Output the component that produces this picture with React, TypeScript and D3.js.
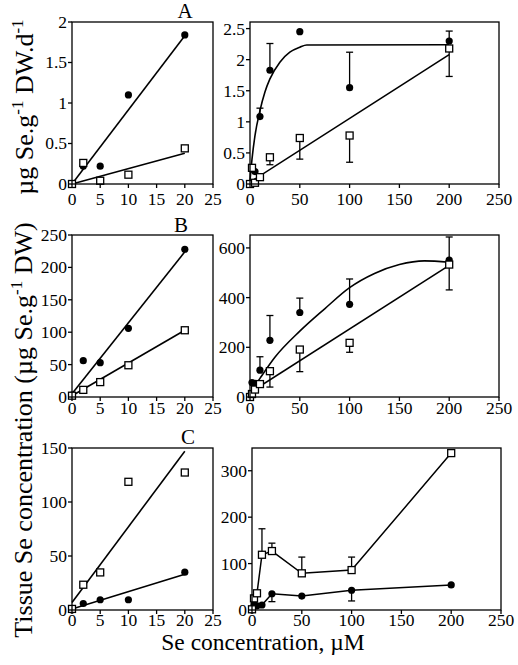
import React from "react";
import * as d3 from "d3";

// ---------- data ----------
const leftX = [0, 2, 5, 10, 20];
const rightX = [0, 2, 5, 10, 20, 50, 100, 200];

const leftXTicks = [0, 5, 10, 15, 20, 25];
const rightXTicks = [0, 50, 100, 150, 200, 250];

// Row A
const aLeftCircles = [0, 0.22, 0.22, 1.1, 1.84];
const aLeftSquares = [0, 0.26, 0.04, 0.115, 0.44];
const aLeftCircleFit: [number, number][] = [[0, 0], [20, 1.83]];
const aLeftSquareFit: [number, number][] = [[0, 0], [20, 0.38]];
const aRightCircles = [0, 0.24, 0.2, 1.085, 1.83, 2.45, 1.55, 2.3];
const aRightSquares = [0, 0.26, 0.02, 0.11, 0.43, 0.74, 0.78, 2.18];
const aRightCircleErr: [number, number][] = [[10, 1.22], [20, 2.26], [100, 2.12], [200, 2.46]];
const aRightSquareErr: [number, number][] = [[20, 0.31], [50, 0.4], [100, 0.35], [200, 1.73]];
const aRightCircleFit: [number, number][] = [
  [0, 0.05], [2, 0.4], [5, 0.78], [10, 1.18], [15, 1.48], [20, 1.69], [30, 1.96],
  [40, 2.12], [50, 2.2], [57, 2.235], [200, 2.24],
];
const aRightSquareFit: [number, number][] = [[0, 0.03], [200, 2.08]];
const aLeftYTicks = [0, 0.5, 1, 1.5, 2];
const aRightYTicks = [0, 0.5, 1, 1.5, 2, 2.5];

// Row B
const bLeftCircles = [3, 56, 53, 106, 228];
const bLeftSquares = [2, 11, 23, 49, 103];
const bLeftCircleFit: [number, number][] = [[0, 5], [20, 224]];
const bLeftSquareFit: [number, number][] = [[0, 2], [20, 103]];
const bRightCircles = [0, 58, 55, 108, 228, 340, 373, 551];
const bRightSquares = [0, 12, 30, 52, 104, 191, 218, 533];
const bRightCircleErr: [number, number][] = [[10, 162], [20, 328], [50, 398], [100, 475], [200, 644]];
const bRightSquareErr: [number, number][] = [[20, 40], [50, 102], [100, 180], [200, 431]];
const bRightCircleFit: [number, number][] = [
  [0, 15], [10, 75], [25, 160], [50, 265], [75, 355], [100, 440], [125, 497],
  [150, 533], [175, 548], [200, 542],
];
const bRightSquareFit: [number, number][] = [[0, 18], [200, 530]];
const bLeftYTicks = [0, 50, 100, 150, 200, 250];
const bRightYTicks = [0, 200, 400, 600];

// Row C
const cLeftCircles = [0, 6, 9.5, 9.5, 35];
const cLeftSquares = [1, 23.4, 34.8, 118.7, 127.3];
const cLeftCircleFit: [number, number][] = [[0, 1], [20, 33]];
const cLeftSquareFit: [number, number][] = [[0, 7], [20, 147]];
const cRightCircles = [0, 12, 9, 10.8, 35, 30, 42.5, 54];
const cRightSquares = [1.5, 25, 36, 119, 127, 79, 86, 338];
const cRightCircleErr: [number, number][] = [[20, 18], [100, 19.5]];
const cRightSquareErr: [number, number][] = [[10, 175], [20, 144], [50, 114], [100, 114]];
const cLeftYTicks = [0, 50, 100, 150];
const cRightYTicks = [0, 100, 200, 300];

const FONT = "Liberation Serif, DejaVu Serif, Times New Roman, serif";

type Panel = {
  xRange: [number, number];
  xDomain: [number, number];
  yDomain: [number, number];
  top: number;
  bottom: number;
  xTicks: number[];
  yTicks: number[];
  xs: number[];
  circles: number[];
  squares: number[];
  circleFit?: [number, number][];
  squareFit?: [number, number][];
  circleCurve?: boolean;
  connect?: boolean;
  circleErr?: [number, number][];
  squareErr?: [number, number][];
  xLabelOffset: number;
};

const panels: Panel[] = [
  {
    xRange: [72, 213], xDomain: [0, 25], yDomain: [0, 2], top: 22, bottom: 184,
    xTicks: leftXTicks, yTicks: aLeftYTicks, xs: leftX,
    circles: aLeftCircles, squares: aLeftSquares,
    circleFit: aLeftCircleFit, squareFit: aLeftSquareFit, xLabelOffset: 21,
  },
  {
    xRange: [250, 499], xDomain: [0, 250], yDomain: [0, 2.606], top: 22, bottom: 184,
    xTicks: rightXTicks, yTicks: aRightYTicks, xs: rightX,
    circles: aRightCircles, squares: aRightSquares,
    circleFit: aRightCircleFit, squareFit: aRightSquareFit, circleCurve: true,
    circleErr: aRightCircleErr, squareErr: aRightSquareErr, xLabelOffset: 21,
  },
  {
    xRange: [72, 213], xDomain: [0, 25], yDomain: [0, 250], top: 235, bottom: 397,
    xTicks: leftXTicks, yTicks: bLeftYTicks, xs: leftX,
    circles: bLeftCircles, squares: bLeftSquares,
    circleFit: bLeftCircleFit, squareFit: bLeftSquareFit, xLabelOffset: 16.5,
  },
  {
    xRange: [250, 499], xDomain: [0, 250], yDomain: [0, 652], top: 235, bottom: 397,
    xTicks: rightXTicks, yTicks: bRightYTicks, xs: rightX,
    circles: bRightCircles, squares: bRightSquares,
    circleFit: bRightCircleFit, squareFit: bRightSquareFit, circleCurve: true,
    circleErr: bRightCircleErr, squareErr: bRightSquareErr, xLabelOffset: 16.5,
  },
  {
    xRange: [72, 213], xDomain: [0, 25], yDomain: [0, 150], top: 448, bottom: 610,
    xTicks: leftXTicks, yTicks: cLeftYTicks, xs: leftX,
    circles: cLeftCircles, squares: cLeftSquares,
    circleFit: cLeftCircleFit, squareFit: cLeftSquareFit, xLabelOffset: 16,
  },
  {
    xRange: [252, 501], xDomain: [0, 250], yDomain: [0, 349], top: 448, bottom: 610,
    xTicks: rightXTicks, yTicks: cRightYTicks, xs: rightX,
    circles: cRightCircles, squares: cRightSquares, connect: true,
    circleErr: cRightCircleErr, squareErr: cRightSquareErr, xLabelOffset: 16,
  },
];

const textStyle = { fontFamily: FONT };

function PanelView({ p }: { p: Panel }) {
  const x = d3.scaleLinear().domain(p.xDomain).range(p.xRange);
  const y = d3.scaleLinear().domain(p.yDomain).range([p.bottom, p.top]);
  const straight = d3.line<[number, number]>().x((d) => x(d[0])).y((d) => y(d[1]));
  const curved = d3
    .line<[number, number]>()
    .x((d) => x(d[0]))
    .y((d) => y(d[1]))
    .curve(d3.curveMonotoneX);
  const circlePts: [number, number][] = p.xs.map((v, i) => [v, p.circles[i]]);
  const squarePts: [number, number][] = p.xs.map((v, i) => [v, p.squares[i]]);
  const cap = 3.5;
  const sq = 7;
  const x0 = p.xRange[0];
  return (
    <g>
      {p.squareFit && (
        <path d={straight(p.squareFit) || ""} fill="none" stroke="#000" strokeWidth={1.6} />
      )}
      {p.circleFit && (
        <path
          d={(p.circleCurve ? curved(p.circleFit) : straight(p.circleFit)) || ""}
          fill="none"
          stroke="#000"
          strokeWidth={1.6}
        />
      )}
      {p.connect && (
        <>
          <path d={straight(squarePts) || ""} fill="none" stroke="#000" strokeWidth={1.5} />
          <path d={straight(circlePts) || ""} fill="none" stroke="#000" strokeWidth={1.5} />
        </>
      )}
      {(p.circleErr || []).map(([xv, e], i) => {
        const v = p.circles[p.xs.indexOf(xv)];
        return (
          <g key={"ce" + i} stroke="#000" strokeWidth={1.3}>
            <line x1={x(xv)} x2={x(xv)} y1={y(v)} y2={y(e)} />
            <line x1={x(xv) - cap} x2={x(xv) + cap} y1={y(e)} y2={y(e)} />
          </g>
        );
      })}
      {(p.squareErr || []).map(([xv, e], i) => {
        const v = p.squares[p.xs.indexOf(xv)];
        return (
          <g key={"se" + i} stroke="#000" strokeWidth={1.3}>
            <line x1={x(xv)} x2={x(xv)} y1={y(v)} y2={y(e)} />
            <line x1={x(xv) - cap} x2={x(xv) + cap} y1={y(e)} y2={y(e)} />
          </g>
        );
      })}
      {circlePts.map(([xv, yv], i) => (
        <circle key={"c" + i} cx={x(xv)} cy={y(yv)} r={3.6} fill="#000" />
      ))}
      {squarePts.map(([xv, yv], i) => (
        <rect
          key={"s" + i}
          x={x(xv) - sq / 2}
          y={y(yv) - sq / 2}
          width={sq}
          height={sq}
          fill="#fff"
          stroke="#000"
          strokeWidth={1.3}
        />
      ))}
      <rect
        x={p.xRange[0]}
        y={p.top}
        width={p.xRange[1] - p.xRange[0]}
        height={p.bottom - p.top}
        fill="none"
        stroke="#000"
        strokeWidth={1.3}
      />
      {p.yTicks.map((t) => (
        <g key={"yt" + t}>
          <line x1={x0 - 4} x2={x0} y1={y(t)} y2={y(t)} stroke="#000" strokeWidth={1.3} />
          <text x={x0 - 5} y={y(t)} dy="0.34em" textAnchor="end" style={textStyle} fontSize={17.5}>
            {String(t)}
          </text>
        </g>
      ))}
      {p.xTicks.map((t) => (
        <g key={"xt" + t}>
          <line x1={x(t)} x2={x(t)} y1={p.bottom} y2={p.bottom + 4} stroke="#000" strokeWidth={1.3} />
          <text
            x={x(t)}
            y={p.bottom + p.xLabelOffset}
            textAnchor="middle"
            style={textStyle}
            fontSize={17.5}
          >
            {String(t)}
          </text>
        </g>
      ))}
    </g>
  );
}

export default function App() {
  return (
    <svg
      width={518}
      height={665}
      style={{ position: "absolute", left: 0, top: 0, background: "#fff" }}
    >
      <rect x={0} y={0} width={518} height={665} fill="#fff" />
      {panels.map((p, i) => (
        <PanelView key={i} p={p} />
      ))}
      <text x={185} y={18} textAnchor="middle" style={textStyle} fontSize={21}>A</text>
      <text x={181} y={231.5} textAnchor="middle" style={textStyle} fontSize={21}>B</text>
      <text x={188} y={444} textAnchor="middle" style={textStyle} fontSize={21}>C</text>
      <text
        transform="translate(33,107) rotate(-90)"
        textAnchor="middle"
        style={textStyle}
        fontSize={26}
      >
        µg Se.g<tspan dy={-10} fontSize={17}>-1</tspan>
        <tspan dy={10}> DW.d</tspan>
        <tspan dy={-10} fontSize={17}>-1</tspan>
      </text>
      <text
        transform="translate(32,430) rotate(-90)"
        textAnchor="middle"
        style={textStyle}
        fontSize={26}
      >
        Tissue Se concentration (µg Se.g<tspan dy={-10} fontSize={17}>-1</tspan>
        <tspan dy={10}> DW)</tspan>
      </text>
      <text x={263} y={650} textAnchor="middle" style={textStyle} fontSize={23.5}>
        Se concentration, µM
      </text>
    </svg>
  );
}
